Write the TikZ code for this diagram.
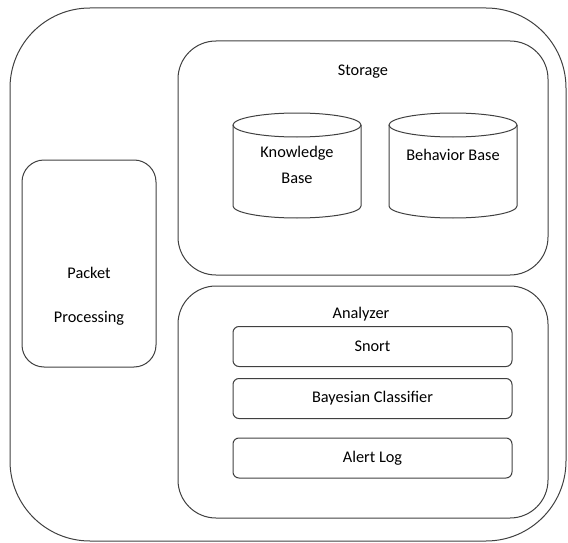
\documentclass[tikz,border=0pt]{standalone}
\usepackage{fontspec}
\setmainfont{Carlito}
\begin{document}
\begin{tikzpicture}[x=1pt,y=-1pt,
  line width=1pt,
  every node/.style={font=\fontsize{16.3}{19}\selectfont, text=black, inner sep=0pt},
  frame/.style={draw=black!75, rounded corners=#1},
  itembox/.style={draw=black!75, rounded corners=6pt, minimum width=279pt, minimum height=40pt},
  lbl/.style={anchor=center}]
  \useasboundingbox (0,0) rectangle (568,543);

  % outer container
  \draw[frame=80pt] (10,8) rectangle (566,541);

  % storage group
  \draw[frame=38pt] (178,41) rectangle (548,275);
  \node[lbl] (storage) at (363,72) {Storage};

  % cylinders: knowledge base and behavior base
  \foreach \cx/\nm in {297/kb, 453/bb} {
    \draw[draw=black!75, fill=white] (\cx-64,125) -- (\cx-64,206)
      arc[start angle=180, end angle=0, x radius=64, y radius=12]
      -- (\cx+64,125);
    \draw[draw=black!75] (\cx,125) ellipse[x radius=64, y radius=12];
    \coordinate (\nm) at (\cx,165);
  }
  \node[lbl] (kbtext1) at (297,153) {Knowledge};
  \node[lbl] (kbtext2) at (297,178) {Base};
  \node[lbl] (bbtext) at (453,155) {Behavior Base};

  % analyzer group
  \draw[frame=38pt] (178,286) rectangle (548,518);
  \node[lbl] (analyzer) at (361,314) {Analyzer};
  \node[itembox] (snort) at (372.5,346.5) {Snort};
  \node[itembox] (bayes) at (372.5,398.5) {Bayesian Classifier};
  \node[itembox] (alert) at (372.5,458) {Alert Log};

  % packet processing block
  \draw[frame=22pt] (22,160) rectangle (156,367);
  \node[lbl] (pkt1) at (89,273) {Packet};
  \node[lbl] (pkt2) at (89,318) {Processing};
\end{tikzpicture}
\end{document}
